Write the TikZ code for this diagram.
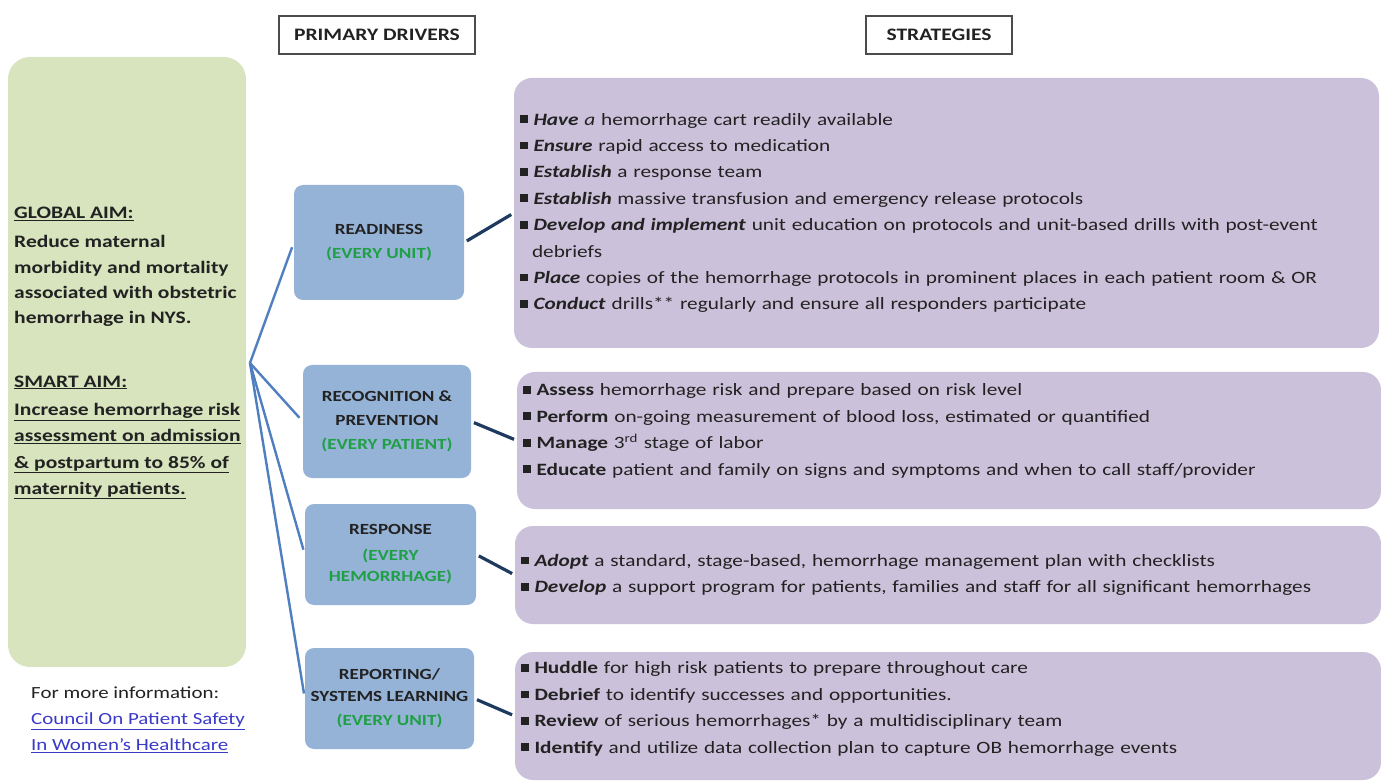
\documentclass[tikz,border=0pt]{standalone}
\usepackage{fontspec}
\setmainfont{Carlito}[FakeStretch=1.23]
\usepackage{xcolor}
\usetikzlibrary{positioning, calc}
\definecolor{aimgreen}{HTML}{D7E4BD}
\definecolor{driverblue}{HTML}{95B3D7}
\definecolor{stratpurple}{HTML}{CCC1DA}
\definecolor{everygreen}{HTML}{1FA045}
\definecolor{hubblue}{HTML}{4F7FBF}
\definecolor{navyline}{HTML}{1F3A5F}
\definecolor{linkblue}{HTML}{3A3AC8}
\definecolor{textdark}{HTML}{222222}
\newcommand{\bul}{\rule[0.12em]{0.45em}{0.45em}}
\newcommand{\every}[1]{\textcolor{everygreen}{#1}}
\newcommand{\lowpad}[1]{\rule[-#1]{0pt}{0pt}}

\begin{document}
\begin{tikzpicture}[x=1pt,y=-1pt,
  header/.style={draw=gray!60!black, line width=1.3pt, minimum height=38pt,
    inner sep=0pt, font=\fontsize{17.5}{18}\selectfont\bfseries, text=textdark},
  driver/.style={fill=driverblue, rounded corners=9pt, align=center, inner sep=0pt,
    font=\fontsize{15.5}{24}\selectfont\bfseries, text=textdark},
  strat/.style={fill=stratpurple, rounded corners=18pt, align=left, inner xsep=6pt,
    inner ysep=0pt, font=\fontsize{17.3}{26.4}\selectfont, text=textdark},
  hubline/.style={hubblue, line width=2.4pt, shorten >=5pt},
  stratline/.style={navyline, line width=3.2pt, shorten <=3pt, shorten >=3pt}]
\useasboundingbox (0,0) rectangle (1381,783);
% Column headers
\node[header, minimum width=196pt] (hdrivers) at (377,35) {PRIMARY DRIVERS};
\node[header, minimum width=146pt] (hstrat) at (939,35) {STRATEGIES};
% Aim box
\node[fill=aimgreen, rounded corners=22pt, minimum width=238pt, minimum height=610pt] (aim) at (127,362) {};
\node[anchor=north west, align=left, inner sep=0pt, text=textdark,
  font=\fontsize{17.5}{25.3}\selectfont\bfseries] (aimtext) at (14,207)
  {\underline{GLOBAL AIM:}\\[4pt]
   Reduce maternal\\
   morbidity and mortality\\
   associated with obstetric\\
   hemorrhage in NYS.\\[38pt]
   \underline{SMART AIM:}\\[3pt]
   \underline{Increase hemorrhage risk}\\[1pt]
   \underline{assessment on admission}\\[1pt]
   \underline{\& postpartum to 85\% of}\\[1pt]
   \underline{maternity patients.}};
\node[anchor=north west, align=left, inner sep=0pt, text=textdark,
  font=\fontsize{17}{26}\selectfont] (info) at (31,687)
  {For more information:\\
   \textcolor{linkblue}{\underline{Council On Patient Safety}}\\
   \textcolor{linkblue}{\underline{In Women's Healthcare}}};
% Primary drivers
\node[driver, minimum width=170pt, minimum height=115pt] (ready) at (379,242.5)
  {READINESS\\ \every{(EVERY UNIT)}};
\node[driver, minimum width=168pt, minimum height=113pt] (recog) at (387,421.5)
  {RECOGNITION \&\\ PREVENTION\\ \every{(EVERY PATIENT)}};
\node[driver, minimum width=171pt, minimum height=101pt] (resp) at (390.5,554.5)
  {RESPONSE\\[2pt] \every{(EVERY}\\[-3pt] \every{HEMORRHAGE)}};
\node[driver, minimum width=169pt, minimum height=101pt] (report) at (389.5,698.5)
  {REPORTING/\\[-2pt] SYSTEMS LEARNING\\ \every{(EVERY UNIT)}};
% Strategies
\node[strat, text width=853pt, minimum height=270pt] (s1) at (946.5,213)
  {\bul{} \textbf{\textit{Have}} \textit{a} hemorrhage cart readily available\\
   \bul{}\ \textbf{\textit{Ensure}} rapid access to medication\\
   \bul{}\ \textbf{\textit{Establish}} a response team\\
   \bul{}\ \textbf{\textit{Establish}} massive transfusion and emergency release protocols\\
   \bul{}\ \textbf{\textit{Develop and implement}} unit education on protocols and unit-based drills with post-event\\
   \hspace*{12pt}debriefs\\
   \bul{} \textbf{\textit{Place}} copies of the hemorrhage protocols in prominent places in each patient room \& OR\\
   \bul{} \textbf{\textit{Conduct}} drills** regularly and ensure all responders participate};
\node[strat, text width=852pt, minimum height=137pt] (s2) at (949,440.5)
  {\bul{} \textbf{Assess} hemorrhage risk and prepare based on risk level\\
   \bul{} \textbf{Perform} on-going measurement of blood loss, estimated or quantified\\
   \bul{} \textbf{Manage} 3\textsuperscript{rd} stage of labor\\
   \bul{} \textbf{Educate} patient and family on signs and symptoms and when to call staff/provider\lowpad{22pt}};
\node[strat, text width=854pt, minimum height=98pt] (s3) at (948,575)
  {\bul{} \textbf{\textit{Adopt}} a standard, stage-based, hemorrhage management plan with checklists\\
   \bul{} \textbf{\textit{Develop}} a support program for patients, families and staff for all significant hemorrhages};
\node[strat, text width=854pt, minimum height=128pt] (s4) at (948,716)
  {\bul{}\ \textbf{Huddle} for high risk patients to prepare throughout care\\
   \bul{} \textbf{Debrief} to identify successes and opportunities.\\
   \bul{} \textbf{Review} of serious hemorrhages* by a multidisciplinary team\\
   \bul{} \textbf{Identify} and utilize data collection plan to capture OB hemorrhage events\lowpad{17pt}};
% Connectors
\coordinate (hub) at (250,363);
\foreach \d in {ready, recog, resp, report}
  \draw[hubline] (hub) -- (\d.west);
\draw[stratline] (ready.east) -- (s1.west);
\draw[stratline] (recog.east) -- (s2.west);
\draw[stratline] (resp.east) -- (s3.west);
\draw[stratline] (report.east) -- (s4.west);
\end{tikzpicture}
\end{document}
